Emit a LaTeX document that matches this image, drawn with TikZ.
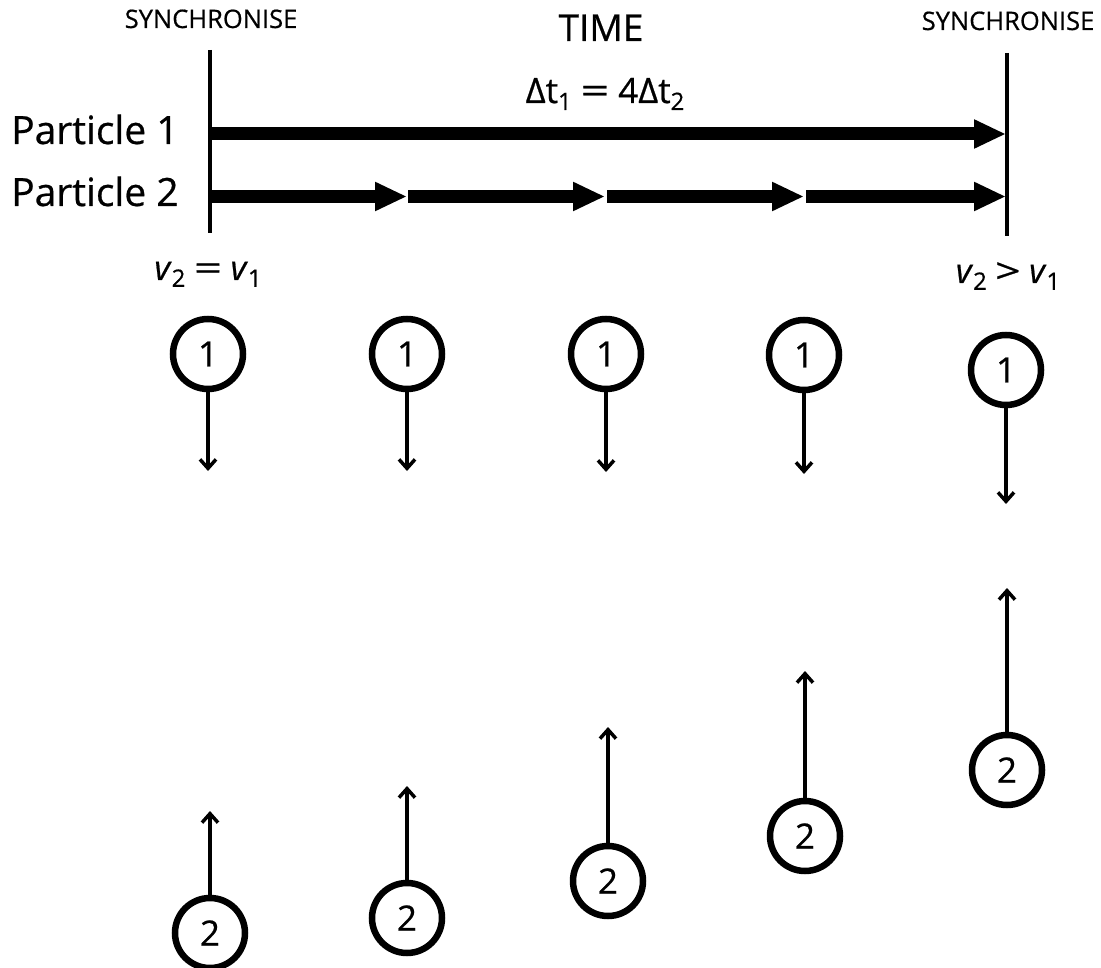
\documentclass[tikz,border=0pt]{standalone}
\usepackage{graphicx}
\usepackage{fontspec}
\setmainfont{Open Sans}[FakeBold=0.6]
\usetikzlibrary{arrows.meta}
\newcommand\mysub[1]{\raisebox{-0.2em}{\fontsize{24}{24}\selectfont #1}}
\newcommand\wideq{\hspace{0.25em}\scalebox{1.45}[1]{=}\hspace{0.25em}}
\newcommand\widegt{\hspace{0.25em}\scalebox{1.3}[1]{>}\hspace{0.25em}}
\begin{document}
\begin{tikzpicture}[x=1pt,y=-1pt,
  bigarrow/.style={line width=13pt,-{Triangle[length=32pt,width=27pt]}},
  syncline/.style={line width=3.5pt},
  thinarrow/.style={line width=3.5pt,-{Straight Barb[length=9pt,width=16pt,line width=3.5pt]}},
  ball/.style={circle,draw,line width=6.5pt,minimum size=70pt,inner sep=0pt,font=\fontsize{35}{35}\selectfont},
  lbl/.style={inner sep=0pt,anchor=base},
  small/.style={lbl,font=\fontsize{25.5}{26}\selectfont},
  big/.style={lbl,font=\fontsize{39}{40}\selectfont}]
\useasboundingbox (0,0) rectangle (1101,968);
% vertical synchronise lines
\coordinate (L1) at (210,50);
\coordinate (L2) at (210,233);
\coordinate (R1) at (1007,53);
\coordinate (R2) at (1007,236);
\draw[syncline] (L1) -- (L2);
\draw[syncline] (R1) -- (R2);
% texts
\node[small] (sl) at (211,28) {SYNCHRONISE};
\node[small] (sr) at (1008,30) {SYNCHRONISE};
\node[big,font=\fontsize{37}{40}\selectfont] (time) at (601,41) {TIME};
\node[big,font=\fontsize{35}{40}\selectfont] (dt) at (605,103) {Δt\mysub{1}\wideq 4Δt\mysub{2}};
\node[big,anchor=base west] (p1) at (11,144) {Particle 1};
\node[big,anchor=base west] (p2) at (11,206) {Particle 2};
\node[big,font=\fontsize{34}{40}\selectfont] (veq) at (208,280) {\textit{v}\mysub{2}\wideq\textit{v}\mysub{1}};
\node[big,font=\fontsize{34}{40}\selectfont] (vgt) at (1008,283) {\textit{v}\mysub{2}\widegt\textit{v}\mysub{1}};
% particle 1 arrow
\coordinate (a1s) at (210,134);
\coordinate (a1e) at (1006,134);
\draw[bigarrow] (a1s) -- (a1e);
% particle 2 arrows
\coordinate (b0) at (210,196.5);
\coordinate (b1) at (407,196.5);
\coordinate (b1s) at (408,196.5);
\coordinate (b2) at (605,196.5);
\coordinate (b2s) at (607,196.5);
\coordinate (b3) at (804,196.5);
\coordinate (b3s) at (806,196.5);
\coordinate (b4) at (1006,196.5);
\draw[bigarrow] (b0) -- (b1);
\draw[bigarrow] (b1s) -- (b2);
\draw[bigarrow] (b2s) -- (b3);
\draw[bigarrow] (b3s) -- (b4);
% particle 1 circles
\node[ball] (t1) at (208,354) {1};
\node[ball] (t2) at (407,354) {1};
\node[ball] (t3) at (606,354) {1};
\node[ball] (t4) at (804,355) {1};
\node[ball] (t5) at (1006,370) {1};
\coordinate (te1) at (208,471);
\coordinate (te2) at (407,471);
\coordinate (te3) at (606,472);
\coordinate (te4) at (804,474);
\coordinate (te5) at (1006,504);
\foreach \i in {1,...,5} \draw[thinarrow] (t\i.south) -- (te\i);
% particle 2 circles
\node[ball] (u1) at (210,933) {2};
\node[ball] (u2) at (407,918) {2};
\node[ball] (u3) at (608,881) {2};
\node[ball] (u4) at (805,836) {2};
\node[ball] (u5) at (1007,770) {2};
\coordinate (ue1) at (210,811);
\coordinate (ue2) at (407,786);
\coordinate (ue3) at (608,727);
\coordinate (ue4) at (805,671);
\coordinate (ue5) at (1007,588);
\foreach \i in {1,...,5} \draw[thinarrow] (u\i.north) -- (ue\i);
\end{tikzpicture}
\end{document}
